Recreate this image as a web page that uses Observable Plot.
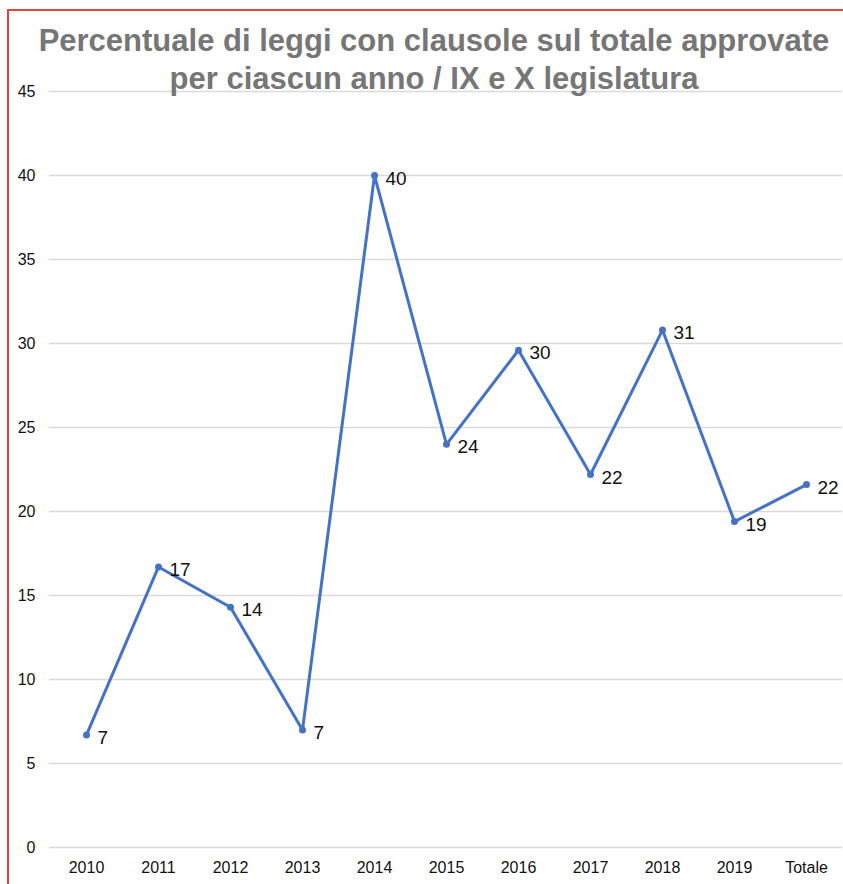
<!DOCTYPE html>
<html>
<head>
<meta charset="utf-8">
<script src="https://cdn.jsdelivr.net/npm/d3@7"></script>
<script src="https://cdn.jsdelivr.net/npm/@observablehq/plot@0.6"></script>
<style>
  html, body { margin: 0; padding: 0; background: #fff; }
  #wrap { position: relative; width: 843px; height: 884px; overflow: hidden; background: #fff; }
  #frame { position: absolute; left: 7px; top: 9px; width: 900px; height: 900px;
           border-left: 2px solid #e8423c; border-top: 2px solid #e8423c; box-sizing: border-box; }
  #title { position: absolute; left: 0; top: 22px; width: 868px; text-align: center;
           font-family: "Liberation Sans", Arial, sans-serif; font-weight: bold; font-size: 31px;
           line-height: 38px; color: #767676; z-index: 2; }
  #chart { position: absolute; left: 0; top: 0; }
</style>
</head>
<body>
<div id="wrap">
  <div id="frame"></div>
  <div id="chart"></div>
  <div id="title">Percentuale di leggi con clausole sul totale approvate<br>per ciascun anno / IX e X legislatura</div>
</div>
<script>
const categories = ["2010", "2011", "2012", "2013", "2014", "2015", "2016", "2017", "2018", "2019", "Totale"];
const values = [6.7, 16.7, 14.3, 7.0, 40.0, 24.0, 29.6, 22.2, 30.8, 19.4, 21.6];
const labels = ["7", "17", "14", "7", "40", "24", "30", "22", "31", "19", "22"];
const yTicks = [0, 5, 10, 15, 20, 25, 30, 35, 40, 45];

const data = categories.map((c, i) => ({cat: c, v: values[i], label: labels[i]}));

const chart = Plot.plot({
  width: 843,
  height: 884,
  marginLeft: 49,
  marginRight: 1,
  marginTop: 91,
  marginBottom: 37,
  style: {fontFamily: "Liberation Sans, Arial, sans-serif", fontSize: "16px", color: "#111", background: "transparent"},
  x: {type: "point", domain: categories, padding: 0.5, label: null},
  y: {domain: [0, 45], label: null},
  marks: [
    Plot.ruleY(yTicks, {stroke: "#d9d9d9", strokeWidth: 1.3}),
    Plot.axisY({ticks: yTicks, tickSize: 0, tickPadding: 14, label: null, fontSize: 16, fill: "#111"}),
    Plot.axisX({tickSize: 0, tickPadding: 14, label: null, fontSize: 16, fill: "#111"}),
    Plot.line(data, {x: "cat", y: "v", stroke: "#4472c4", strokeWidth: 3}),
    Plot.dot(data, {x: "cat", y: "v", fill: "#4472c4", r: 3.5}),
    Plot.text(data, {x: "cat", y: "v", text: "label", textAnchor: "start", dx: 11, dy: 3, fontSize: 19, fill: "#111"})
  ]
});
document.getElementById("chart").appendChild(chart);
</script>
</body>
</html>
